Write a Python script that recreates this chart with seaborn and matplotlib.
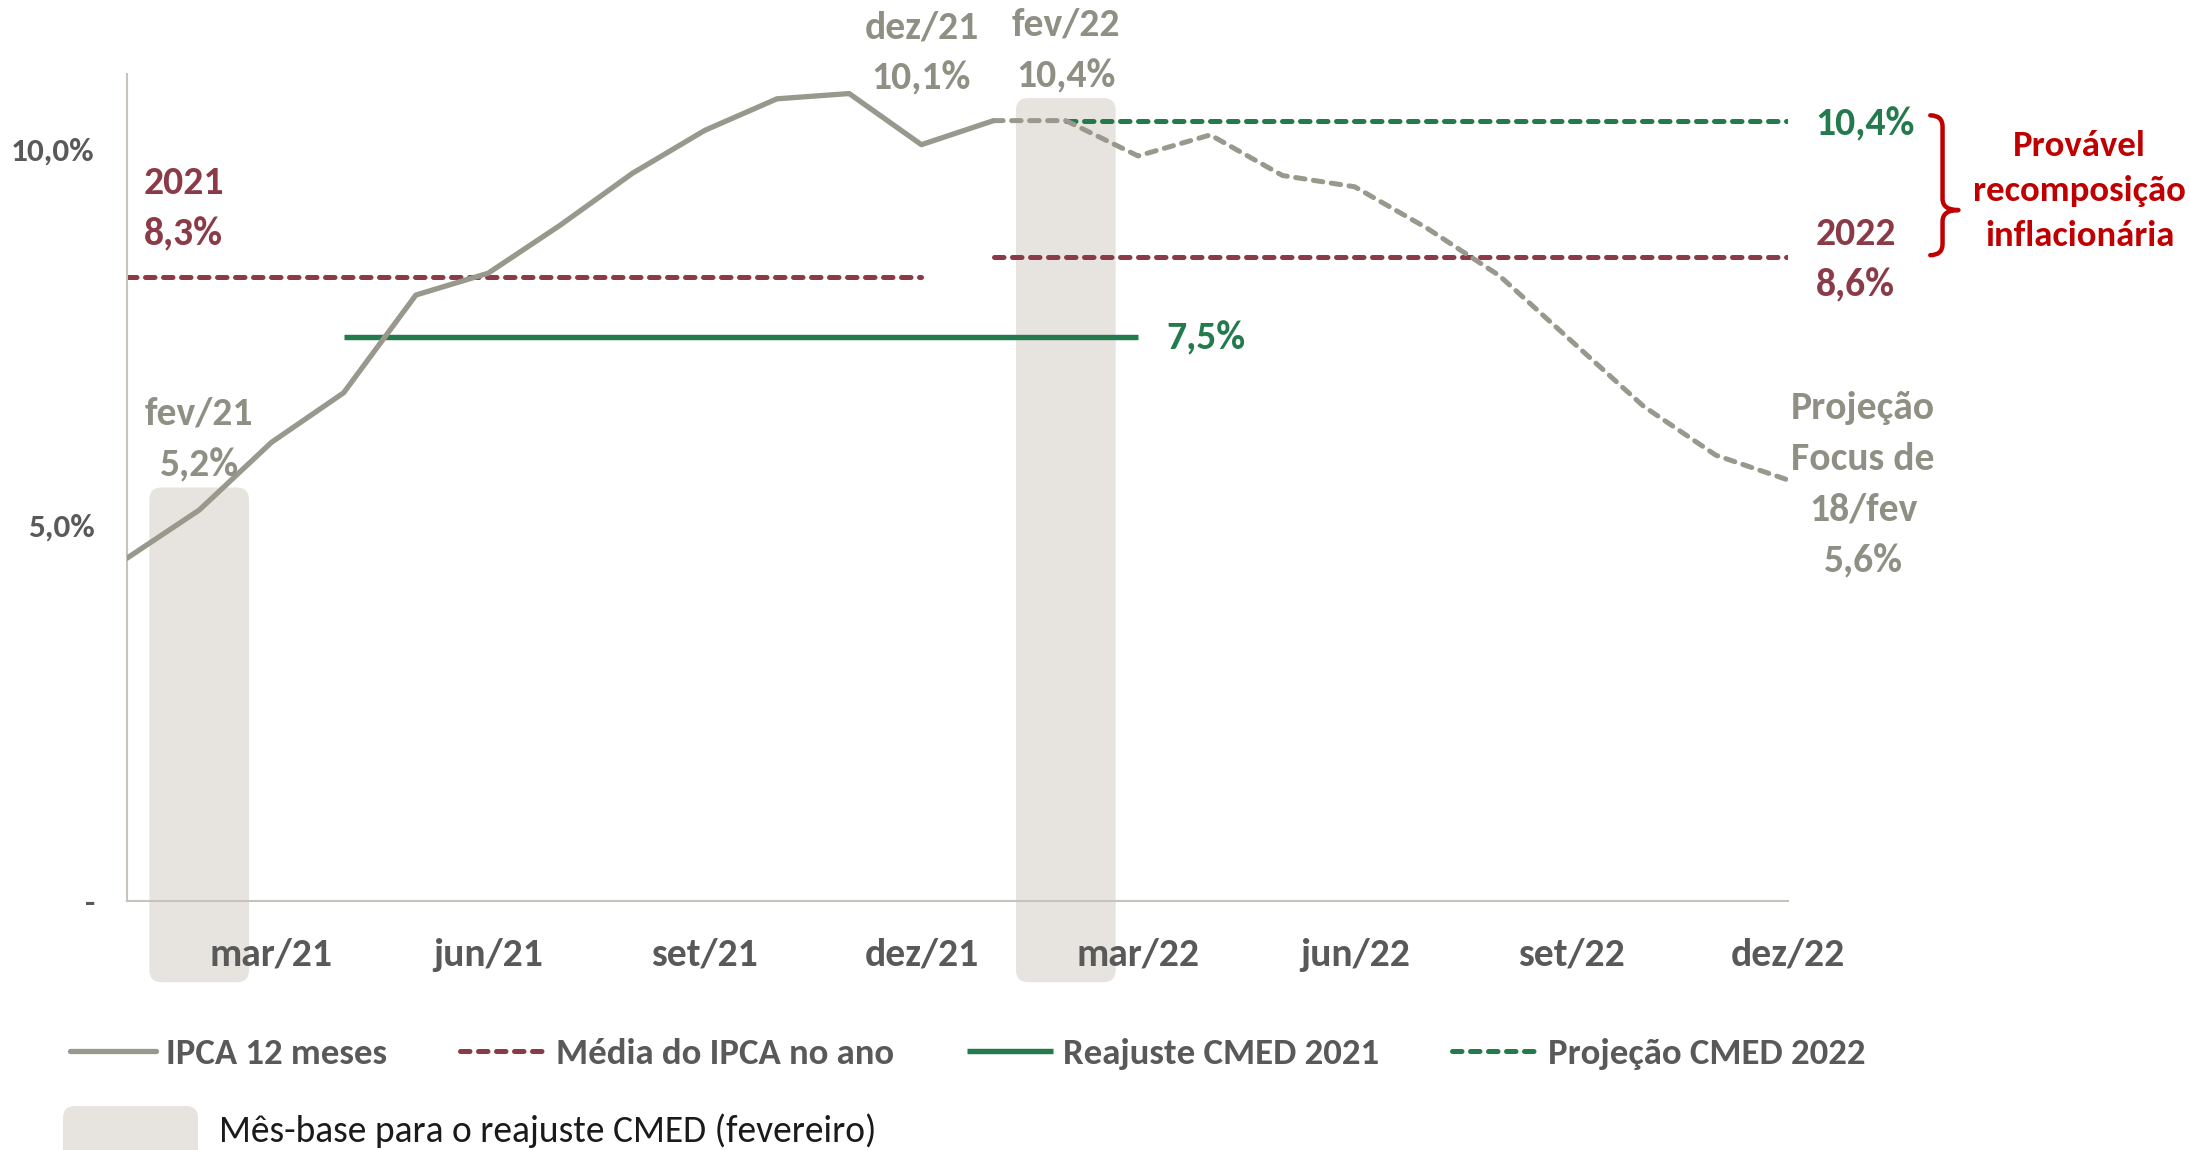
import numpy as np
import pandas as pd
import matplotlib
matplotlib.use("Agg")
from matplotlib import pyplot as plt
from matplotlib.patches import FancyBboxPatch, PathPatch
from matplotlib.path import Path
import seaborn as sns

# dados
meses = ["jan/21", "fev/21", "mar/21", "abr/21", "mai/21", "jun/21",
         "jul/21", "ago/21", "set/21", "out/21", "nov/21", "dez/21",
         "jan/22", "fev/22", "mar/22", "abr/22", "mai/22", "jun/22",
         "jul/22", "ago/22", "set/22", "out/22", "nov/22", "dez/22"]
# IPCA 12 meses observado (jan/21 - jan/22)
ipca_obs = [4.56, 5.20, 6.10, 6.76, 8.06, 8.35, 8.99, 9.68, 10.25, 10.67, 10.74, 10.06, 10.38]
# projecao Focus de 18/fev (jan/22 - dez/22)
ipca_focus = [10.38, 10.38, 9.91, 10.19, 9.65, 9.50, 8.95, 8.32, 7.45, 6.58, 5.93, 5.60]

media_2021 = 8.3
media_2022 = 8.56
reajuste_2021 = 7.5
projecao_2022 = 10.38

meses_base = ["fev/21", "fev/22"]
xtick_labels = ["" if i % 3 != 2 else m for i, m in enumerate(meses)]
ytick_vals = [0, 5, 10]
ytick_labels = ["-", "5,0%", "10,0%"]

legend_labels = ["IPCA 12 meses", "Média do IPCA no ano", "Reajuste CMED 2021", "Projeção CMED 2022"]
base_label = "Mês-base para o reajuste CMED (fevereiro)"

# cores
c_gray = "#98998C"
c_gray_txt = "#8F9083"
c_wine = "#8B3A48"
c_green = "#237A4C"
c_red = "#C00000"
c_shade = "#E7E4DF"
c_axis = "#C8C3BA"
c_tick = "#595959"


def pct(v):
    return f"{v:.1f}%".replace(".", ",")


sns.set_theme(style="white")
plt.rcParams["font.family"] = ["Carlito", "DejaVu Sans"]

fig = plt.figure(figsize=(21.9, 11.5), dpi=100)
ax = fig.add_axes([0.05799, 0.21652, 0.75845, 0.71913])

pos = np.arange(len(meses))
i_jan22 = meses.index("jan/22")

lw = 3.6
dash = (0, (1.9, 1.7))
sns.lineplot(x=pos[:i_jan22 + 1], y=ipca_obs, color=c_gray, lw=3.8, ax=ax, zorder=3)
sns.lineplot(x=pos[i_jan22:], y=ipca_focus, color=c_gray, lw=lw, linestyle=dash,
             dash_capstyle="round", ax=ax, zorder=3)

# medias anuais
h_media, = ax.plot([0, meses.index("dez/21")], [media_2021] * 2, color=c_wine, lw=lw,
                   linestyle=dash, dash_capstyle="round", zorder=2)
ax.plot([i_jan22, len(meses) - 1], [media_2022] * 2, color=c_wine, lw=lw,
        linestyle=dash, dash_capstyle="round", zorder=2)
# reajuste CMED
h_reaj, = ax.plot([meses.index("abr/21"), meses.index("mar/22")], [reajuste_2021] * 2,
                  color=c_green, lw=3.9, zorder=2, solid_capstyle="butt")
h_proj, = ax.plot([meses.index("fev/22"), len(meses) - 1], [projecao_2022] * 2,
                  color=c_green, lw=lw, linestyle=dash, dash_capstyle="round", zorder=2.5)

# meses-base (faixas arredondadas)
serie = ipca_obs + ipca_focus[1:]
for m in meses_base:
    i = meses.index(m)
    top = serie[i] + 0.3
    ax.add_patch(FancyBboxPatch((i - 0.69, -1.08), 1.38, top + 1.08,
                                boxstyle="round,pad=0,rounding_size=0.17",
                                mutation_aspect=0.96, fc=c_shade, ec="none",
                                zorder=0.5, clip_on=False))

ax.set_xlim(0, len(meses) - 1)
ax.set_ylim(0, 11)
ax.set_xticks(pos)
ax.set_xticklabels(xtick_labels)
ax.set_yticks(ytick_vals)
ax.set_yticklabels(ytick_labels)
ax.tick_params(axis="x", length=8.6, width=1.5, color=c_axis, pad=18,
               labelsize=28.5, labelcolor=c_tick)
ax.tick_params(axis="y", length=7.2, width=1.5, color=c_axis, pad=16,
               labelsize=24, labelcolor=c_tick)
for lab in ax.get_xticklabels() + ax.get_yticklabels():
    lab.set_fontweight("bold")
for s in ["top", "right"]:
    ax.spines[s].set_visible(False)
for s in ["left", "bottom"]:
    ax.spines[s].set_color(c_axis)
    ax.spines[s].set_linewidth(1.5)
ax.set_xlabel("")
ax.set_ylabel("")

# anotacoes
big = dict(fontsize=28.5, fontweight="bold", linespacing=1.6, clip_on=False)
for m, y in [("fev/21", 6.14), ("dez/21", 11.28), ("fev/22", 11.31)]:
    i = meses.index(m)
    ax.text(i, y, f"{m}\n{pct(serie[i])}", ha="center", va="center", color=c_gray_txt, **big)
ax.text(0.23, 9.21, f"2021\n{pct(media_2021)}", ha="left", va="center", color=c_wine, **big)
ax.text(23.38, 8.53, f"2022\n{pct(media_2022)}", ha="left", va="center", color=c_wine, **big)
ax.text(23.38, 10.33, pct(projecao_2022), ha="left", va="center", color=c_green, **big)
ax.text(14.39, 7.48, pct(reajuste_2021), ha="left", va="center", color=c_green, **big)
ax.text(24.04, 5.54, f"Projeção\nFocus de\n18/fev\n{pct(ipca_focus[-1])}", ha="center",
        va="center", color=c_gray_txt, **big)

# chave
x0, x1, xt = 24.97, 25.14, 25.36
yt, yb, ym = 10.45, 8.59, 9.19
verts = [(x0, yt), (x1, yt), (x1, yt - 0.15), (x1, ym + 0.15), (x1, ym), (xt, ym),
         (x1, ym), (x1, ym - 0.15), (x1, yb + 0.15), (x1, yb), (x0, yb)]
codes = [Path.MOVETO, Path.CURVE3, Path.CURVE3, Path.LINETO, Path.CURVE3, Path.CURVE3,
         Path.CURVE3, Path.CURVE3, Path.LINETO, Path.CURVE3, Path.CURVE3]
ax.add_patch(PathPatch(Path(verts, codes), fill=False, ec=c_red, lw=3.2, clip_on=False,
                       capstyle="round", joinstyle="round"))
ax.text(27.04, 9.44, "Provável\nrecomposição\ninflacionária", ha="center", va="center",
        color=c_red, fontsize=26.5, fontweight="bold", linespacing=1.5, clip_on=False)

# legenda
h_ipca = ax.get_lines()[0]
fig.legend([h_ipca, h_media, h_reaj, h_proj], legend_labels, loc="center left",
           bbox_to_anchor=(0.032, 0.0835), ncol=4, frameon=False,
           prop={"size": 26.5, "weight": "bold"}, labelcolor=c_tick,
           handlelength=2.34, handletextpad=0.27, columnspacing=1.98,
           borderpad=0, borderaxespad=0)
fig.patches.append(FancyBboxPatch((0.63, -0.3), 1.35, 0.74,
                                  boxstyle="round,pad=0,rounding_size=0.12",
                                  fc=c_shade, ec="none", transform=fig.dpi_scale_trans,
                                  figure=fig))
fig.text(2.19, 0.19, base_label, transform=fig.dpi_scale_trans, ha="left", va="center",
         fontsize=27, color="#1A1A1A")

fig.savefig("out.png", dpi=100)
